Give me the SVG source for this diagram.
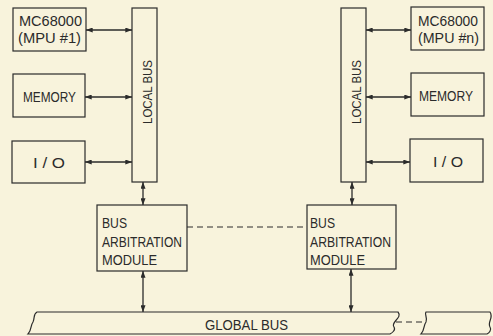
<svg xmlns="http://www.w3.org/2000/svg" width="493" height="336" viewBox="0 0 493 336">
<defs>
<style>
.box{fill:none;stroke:#2b2b2b;stroke-width:1.2}
.ln{fill:none;stroke:#2b2b2b;stroke-width:1.3}
.dash{fill:none;stroke:#2b2b2b;stroke-width:1.2;stroke-dasharray:6,4}
.t{font-family:"Liberation Sans",Arial,sans-serif;font-size:15px;fill:#2b2b2b}
.v{font-size:13.5px}
.m{font-size:14px}
</style>
<marker id="ah" viewBox="0 0 8 6" refX="8" refY="3" markerWidth="7" markerHeight="5" markerUnits="userSpaceOnUse" orient="auto-start-reverse">
<path d="M0,0 L8,3 L0,6 Z" fill="#2b2b2b"/>
</marker>
</defs>
<rect width="493" height="336" fill="#f8f3dc"/>
<g id="mpu1"><rect class="box" x="13" y="8" width="73" height="43"/>
<text class="t m" x="19" y="26" textLength="63" lengthAdjust="spacingAndGlyphs">MC68000</text>
<text class="t m" x="18" y="43" textLength="63" lengthAdjust="spacingAndGlyphs">(MPU #1)</text></g>
<g id="mem1"><rect class="box" x="13" y="74" width="72" height="43"/>
<text class="t" x="23" y="102" textLength="53" lengthAdjust="spacingAndGlyphs">MEMORY</text></g>
<g id="io1"><rect class="box" x="12" y="141" width="73" height="42"/>
<text class="t" x="33" y="168" textLength="32" lengthAdjust="spacingAndGlyphs">I / O</text></g>
<g id="lbus1"><rect class="box" x="132" y="8" width="25" height="174"/>
<text class="t v" transform="translate(152,92) rotate(-90)" text-anchor="middle" textLength="64" lengthAdjust="spacingAndGlyphs">LOCAL BUS</text></g>
<g id="bam1"><rect class="box" x="97" y="205" width="90" height="66"/>
<text class="t" x="102" y="228" textLength="25" lengthAdjust="spacingAndGlyphs">BUS</text>
<text class="t" x="102" y="247" textLength="80" lengthAdjust="spacingAndGlyphs">ARBITRATION</text>
<text class="t" x="102" y="265" textLength="55" lengthAdjust="spacingAndGlyphs">MODULE</text></g>
<g id="mpun"><rect class="box" x="411" y="7" width="73" height="43"/>
<text class="t m" x="418" y="26" textLength="60" lengthAdjust="spacingAndGlyphs">MC68000</text>
<text class="t m" x="418" y="43" textLength="61" lengthAdjust="spacingAndGlyphs">(MPU #n)</text></g>
<g id="memn"><rect class="box" x="411" y="73" width="73" height="43"/>
<text class="t" x="419" y="101" textLength="54" lengthAdjust="spacingAndGlyphs">MEMORY</text></g>
<g id="ion"><rect class="box" x="410" y="139" width="73" height="43"/>
<text class="t" x="433" y="167" textLength="30" lengthAdjust="spacingAndGlyphs">I / O</text></g>
<g id="lbusn"><rect class="box" x="341" y="8" width="25" height="174"/>
<text class="t v" transform="translate(361,92) rotate(-90)" text-anchor="middle" textLength="64" lengthAdjust="spacingAndGlyphs">LOCAL BUS</text></g>
<g id="bamn"><rect class="box" x="307" y="205" width="89" height="64"/>
<text class="t" x="310" y="228" textLength="25" lengthAdjust="spacingAndGlyphs">BUS</text>
<text class="t" x="310" y="247" textLength="81" lengthAdjust="spacingAndGlyphs">ARBITRATION</text>
<text class="t" x="310" y="265" textLength="55" lengthAdjust="spacingAndGlyphs">MODULE</text></g>
<g id="gbus">
<path class="box" d="M37,312 H398 C403,318 390,322 394,327 C396,330 392,333 390,334 H28 C32,330 30,326 33,322 C35,318 33,314 37,312 Z"/>
<text class="t" x="205" y="330" textLength="83" lengthAdjust="spacingAndGlyphs">GLOBAL BUS</text></g>
<g id="gbus2">
<path class="box" d="M426,312 H490 C494,318 487,322 490,327 C492,330 489,333 487,334 H421 C425,330 423,326 426,322 C428,318 424,314 426,312 Z"/></g>
<g id="connectors">
<line class="ln" x1="86" y1="30" x2="132" y2="30" marker-start="url(#ah)" marker-end="url(#ah)"/>
<line class="ln" x1="85" y1="97" x2="132" y2="97" marker-start="url(#ah)" marker-end="url(#ah)"/>
<line class="ln" x1="85" y1="162" x2="132" y2="162" marker-start="url(#ah)" marker-end="url(#ah)"/>
<line class="ln" x1="143" y1="182" x2="143" y2="205" marker-start="url(#ah)" marker-end="url(#ah)"/>
<line class="ln" x1="143" y1="271" x2="143" y2="312" marker-start="url(#ah)" marker-end="url(#ah)"/>
<line class="ln" x1="366" y1="30" x2="411" y2="30" marker-start="url(#ah)" marker-end="url(#ah)"/>
<line class="ln" x1="366" y1="97" x2="411" y2="97" marker-start="url(#ah)" marker-end="url(#ah)"/>
<line class="ln" x1="366" y1="162" x2="410" y2="162" marker-start="url(#ah)" marker-end="url(#ah)"/>
<line class="ln" x1="352" y1="182" x2="352" y2="205" marker-start="url(#ah)" marker-end="url(#ah)"/>
<line class="ln" x1="351" y1="269" x2="351" y2="312" marker-start="url(#ah)" marker-end="url(#ah)"/>
<line class="dash" x1="187" y1="227" x2="307" y2="227"/>
<line class="dash" x1="396" y1="322" x2="423" y2="322"/>
</g>
</svg>
